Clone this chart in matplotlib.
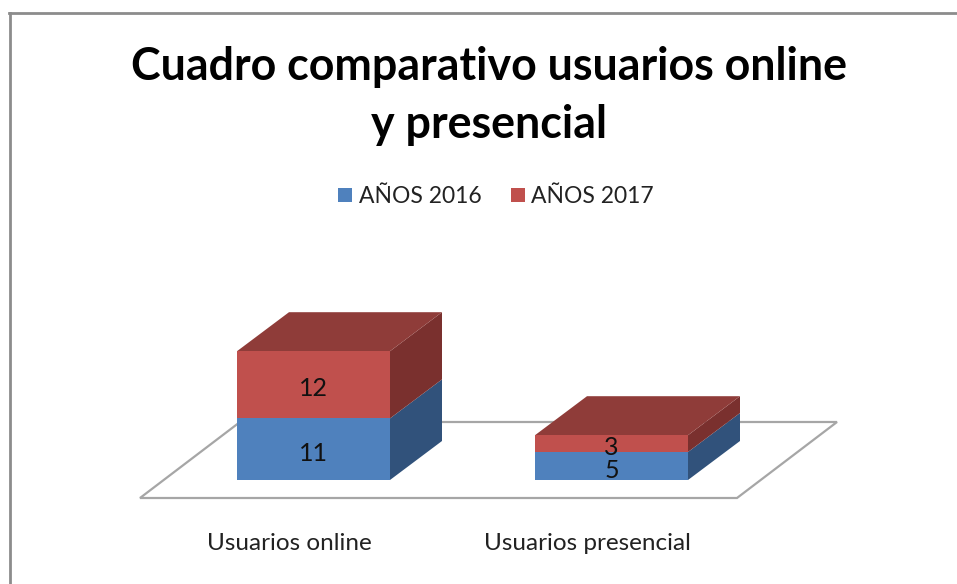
"""Stacked pseudo-3D column chart: usuarios online vs presencial."""
import numpy as np
import matplotlib; matplotlib.use("Agg")
import matplotlib.pyplot as plt
from matplotlib.patches import Polygon
from matplotlib.lines import Line2D

categories = ["Usuarios online", "Usuarios presencial"]
anos_2016 = [11, 5]
anos_2017 = [12, 3]
series_names = ["AÑOS 2016", "AÑOS 2017"]
title = "Cuadro comparativo usuarios online\ny presencial"

plt.rcParams["font.family"] = ["Lato", "DejaVu Sans"]
W, H = 957, 584
fig = plt.figure(figsize=(W/100, H/100), dpi=100, facecolor="white")
ax = fig.add_axes([0, 0, 1, 1])
# one category = 298 px, one unit = 5.6 px
PX, PY = 298.0, 5.6
ax.set_xlim(-313.5/PX, (W-313.5)/PX)
ax.set_ylim(-(H-480)/PY, 480/PY)
ax.axis("off")

width = 153/PX
dx, dy = 52/PX, 39/PY          # bar depth
fx, fy = 100/PX, 76/PY         # floor depth
fl, fr, fb = -173.5/PX, 423.5/PX, -18/PY

# floor, drawn under the bars
ax.add_patch(Polygon([(fl, fb), (fr, fb), (fr+fx, fb+fy), (fl+fx, fb+fy)], closed=True,
                     fc="white", ec="#A6A6A6", lw=1.6, zorder=1))

x = np.arange(len(categories))
b1 = np.array(anos_2016, float)
b2 = np.array(anos_2017, float)
ax.bar(x, b1, width, color="#4F81BD", zorder=3)
ax.bar(x, b2, width, bottom=b1, color="#C0504D", zorder=3)

lab_off = 4/PY
for xi, v1, v2 in zip(x, b1, b2):
    r = xi + width/2
    l = xi - width/2
    # side faces
    ax.add_patch(Polygon([(r, 0), (r+dx, dy), (r+dx, v1+dy), (r, v1)], fc="#31527B", ec="none", zorder=2))
    ax.add_patch(Polygon([(r, v1), (r+dx, v1+dy), (r+dx, v1+v2+dy), (r, v1+v2)], fc="#7A302E", ec="none", zorder=2))
    # top
    ax.add_patch(Polygon([(l, v1+v2), (r, v1+v2), (r+dx, v1+v2+dy), (l+dx, v1+v2+dy)], fc="#8F3C39", ec="none", zorder=2))
    ax.text(xi, v1/2-lab_off, f"{v1:.0f}", ha="center", va="center", fontsize=18, color="#111111", zorder=4)
    ax.text(xi, v1+v2/2-lab_off, f"{v2:.0f}", ha="center", va="center", fontsize=18, color="#111111", zorder=4)

for xi, c in zip(x, categories):
    ax.text(xi-0.08, -64/PY, c, ha="center", va="center", fontsize=17.5, color="#222222")

fig.text(489/W, 1-96/H, title, ha="center", va="center", fontsize=32.2, fontweight="bold",
         color="black", linespacing=1.45)

handles = [Polygon([(0, 0)], fc="#4F81BD"), Polygon([(0, 0)], fc="#C0504D")]
ax.legend(handles, series_names, ncol=2, loc="center", bbox_to_anchor=(496/W, 1-196.5/H),
          bbox_transform=fig.transFigure, frameon=False, fontsize=16.5, labelcolor="#222222",
          handlelength=0.61, handleheight=0.61, handletextpad=0.3, columnspacing=1.27)

# chart frame only shows on the top and left
fig.add_artist(Line2D([10/W, 10/W], [0, 1-13/H], color="#8C8C8C", lw=2))
fig.add_artist(Line2D([9/W, 1], [1-13/H, 1-13/H], color="#8C8C8C", lw=2))

fig.savefig("out.png", dpi=100)
